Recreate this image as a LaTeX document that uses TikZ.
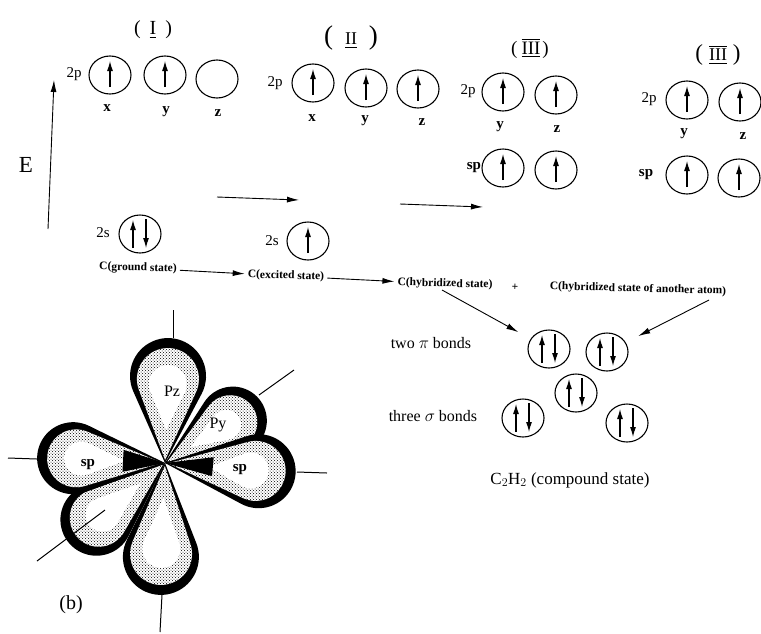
\documentclass[tikz,border=0pt]{standalone}
\usepackage{amsmath,amssymb}
\usepackage{fontspec}
\setmainfont{Liberation Serif}
\usetikzlibrary{arrows.meta,shapes.geometric,patterns}
\tikzset{
  orb/.style={draw, ellipse, line width=1.1pt, minimum width=42pt, minimum height=38pt, inner sep=0pt},
  spin/.style={line width=1.1pt, -{Latex[length=10pt,width=6pt]}},
  flow/.style={line width=0.9pt, -{Latex[length=12pt,width=6pt]}},
  step label/.style={font=\fontsize{15}{17}\selectfont, inner sep=1pt},
  axis label/.style={font=\fontsize{15}{17}\selectfont\bfseries, inner sep=1pt},
  state/.style={font=\fontsize{11.5}{13}\selectfont\bfseries, inner sep=3pt},
  bond text/.style={font=\fontsize{16}{18}\selectfont, inner sep=1pt},
  axis line/.style={line width=1pt}
}
% orbital holding one electron
\newcommand{\orbone}[3]{
  \node[orb] (#1) at (#2,#3) {};
  \draw[spin] ([yshift=-12pt]#1.center) -- ([yshift=14pt]#1.center);
}
% orbital holding a pair
\newcommand{\orbtwo}[3]{
  \node[orb] (#1) at (#2,#3) {};
  \draw[spin] ([xshift=-7pt,yshift=-14pt]#1.center) -- ([xshift=-7pt,yshift=14pt]#1.center);
  \draw[spin] ([xshift=6pt,yshift=15pt]#1.center) -- ([xshift=6pt,yshift=-14pt]#1.center);
}
% one lobe: angle, distance, radius, start of the white part
\newcommand{\lobe}[4]{
  \begin{scope}[shift={(nucleus)}, rotate=#1]
    \pgfmathsetmacro{\phiA}{180-acos(#3/#2)}
    \pgfmathsetmacro{\phiB}{180-acos((#3-7)/(#2-5))}
    \pgfmathsetmacro{\phiC}{180-acos((#3-19)/(#2-8-#4))}
    \fill[black] (0pt,0pt) -- ([shift={(#2pt,0pt)}]\phiA:#3pt) arc[start angle=\phiA, end angle=-\phiA, radius=#3pt] -- cycle;
    \path[preaction={fill=white}, pattern=crosshatch dots, pattern color=black]
      (3pt,0pt) -- ([shift={(#2pt-3pt,0pt)}]\phiB:#3pt-7pt) arc[start angle=\phiB, end angle=-\phiB, radius=#3pt-7pt] -- cycle;
    \fill[white] (#4pt,0pt) -- ([shift={(#2pt-8pt,0pt)}]\phiC:#3pt-19pt) arc[start angle=\phiC, end angle=-\phiC, radius=#3pt-19pt] -- cycle;
  \end{scope}
}

\begin{document}
\begin{tikzpicture}[x=1pt, y=-1pt]
  \useasboundingbox (0,0) rectangle (761,633);

  % --- energy axis ---
  \coordinate (Elow) at (48,229);
  \coordinate (Etop) at (54,80);
  \draw[flow] (Elow) -- (Etop);
  \node[font=\fontsize{23}{25}\selectfont] (Elabel) at (26,165) {E};

  % --- (I) ---
  \node[font=\fontsize{20}{22}\selectfont] (titleA) at (153,30) {(\hspace{9pt}$\underline{\mathrm{I}}$\hspace{9pt})};
  \node[step label] (pA) at (74,74) {2p};
  \orbone{Ax}{110}{75}
  \orbone{Ay}{165}{75}
  \node[orb] (Az) at (217,79) {};
  \node[axis label] (xA) at (107,108) {x};
  \node[axis label] (yA) at (166,112) {y};
  \node[axis label] (zA) at (218,113) {z};
  \node[step label] (sA) at (103,233) {2s};
  \orbtwo{As}{140}{234}

  % --- (II) ---
  \node[font=\fontsize{27}{29}\selectfont] (titleB) at (351,38) {(\hspace{12pt}{\fontsize{18}{20}\selectfont$\underline{\mathrm{II}}$}\hspace{12pt})};
  \node[step label] (pB) at (275,83) {2p};
  \orbone{Bx}{313}{83}
  \orbone{By}{366}{88}
  \orbone{Bz}{418}{89}
  \node[axis label] (xB) at (312,118) {x};
  \node[axis label] (yB) at (365,121) {y};
  \node[axis label] (zB) at (422,122) {z};
  \node[step label] (sB) at (272,241) {2s};
  \orbone{Bs}{308}{241}

  % --- (III) ---
  \node[font=\fontsize{19}{21}\selectfont] (titleC) at (530,48) {(\hspace{4pt}$\overline{\underline{\mathrm{III}}}$\hspace{2pt})};
  \node[step label] (pC) at (468,91) {2p};
  \orbone{Cy}{503}{92}
  \orbone{Cz}{556}{95}
  \node[axis label] (yC) at (500,127) {y};
  \node[axis label] (zC) at (557,129) {z};
  \node[axis label] (sC) at (474,168) {sp};
  \orbone{Cp}{503}{168}
  \orbone{Cq}{556}{170}

  % --- (III) again ---
  \node[font=\fontsize{23}{25}\selectfont] (titleD) at (718,55) {(\hspace{6pt}{\fontsize{18}{20}\selectfont$\overline{\underline{\mathrm{III}}}$}\hspace{6pt})};
  \node[step label] (pD) at (649,99) {2p};
  \orbone{Dy}{687}{100}
  \orbone{Dz}{740}{102}
  \node[axis label] (yD) at (684,134) {y};
  \node[axis label] (zD) at (743,136) {z};
  \node[axis label] (sD) at (646,175) {sp};
  \orbone{Dp}{687}{175}
  \orbone{Dq}{739}{178}

  % --- arrows between the columns ---
  \coordinate (stepAa) at (217,197);
  \coordinate (stepAb) at (299,200);
  \coordinate (stepBa) at (400,204);
  \coordinate (stepBb) at (483,207);
  \draw[flow] (stepAa) -- (stepAb);
  \draw[flow] (stepBa) -- (stepBb);

  % --- row of states ---
  \node[state, rotate=-1.5] (ground) at (138,268) {C(ground state)};
  \node[state, rotate=-1.5] (excited) at (286,276) {C(excited state)};
  \node[state, rotate=-1.5] (hybA) at (445,284) {C(hybridized state)};
  \node[state, rotate=-1.5, inner sep=0pt] (plus) at (515,287) {+};
  \node[state, rotate=-1.5] (hybB) at (638,289) {C(hybridized state of another atom)};
  \draw[flow] (ground) -- (excited);
  \draw[flow] (excited) -- (hybA);

  % --- compound ---
  \orbtwo{piA}{549}{349}
  \orbtwo{piB}{607}{352}
  \orbtwo{sigB}{576}{393}
  \orbtwo{sigA}{523}{418}
  \orbtwo{sigC}{627}{423}
  \coordinate (hybAfoot) at (442,290);
  \coordinate (hybBfoot) at (709,300);
  \draw[flow, shorten >=14pt] (hybAfoot) -- (piA);
  \draw[flow, shorten >=14pt] (hybBfoot) -- (piB);
  \node[bond text] (twopi) at (431,343) {two $\pi$ bonds};
  \node[bond text] (threesig) at (433,416) {three $\sigma$ bonds};
  \node[font=\fontsize{17}{19}\selectfont] (compound) at (570,480) {C$_2$H$_2$ (compound state)};

  % --- orbitals ---
  \coordinate (nucleus) at (165,463);
  \lobe{32}{80}{34}{30}
  \lobe{88}{87}{38}{33}
  \lobe{219.6}{89}{36}{32}
  \lobe{267.5}{94}{38}{35}
  \lobe{177}{92}{36}{40}
  \lobe{-5}{94}{37}{44}
  % black wedges of the sp lobes
  \begin{scope}[shift={(nucleus)}, rotate=177]
    \fill[black] (0pt,0pt) -- (42pt,11pt) -- (42pt,-11pt) -- cycle;
  \end{scope}
  \begin{scope}[shift={(nucleus)}, rotate=-5]
    \fill[black] (0pt,0pt) -- (48pt,10pt) -- (48pt,-9pt) -- cycle;
  \end{scope}
  \draw[axis line] (173,310) -- (173,338);
  \draw[axis line] (294,370) -- (259,395);
  \draw[axis line] (297,472) -- (327,473);
  \draw[axis line] (8,458) -- (37,459);
  \draw[axis line] (37,561) -- (105,510);
  \draw[axis line] (162,595) -- (160,632);
  \node[font=\fontsize{16}{18}\selectfont] (Pz) at (172,391) {Pz};
  \node[font=\fontsize{16}{18}\selectfont] (Py) at (218,425) {Py};
  \node[font=\fontsize{15}{17}\selectfont\bfseries] (spL) at (88,465) {sp};
  \node[font=\fontsize{15}{17}\selectfont\bfseries] (spR) at (240,470) {sp};
  \node[font=\fontsize{20}{22}\selectfont] (bLabel) at (71,605) {(b)};
\end{tikzpicture}
\end{document}
